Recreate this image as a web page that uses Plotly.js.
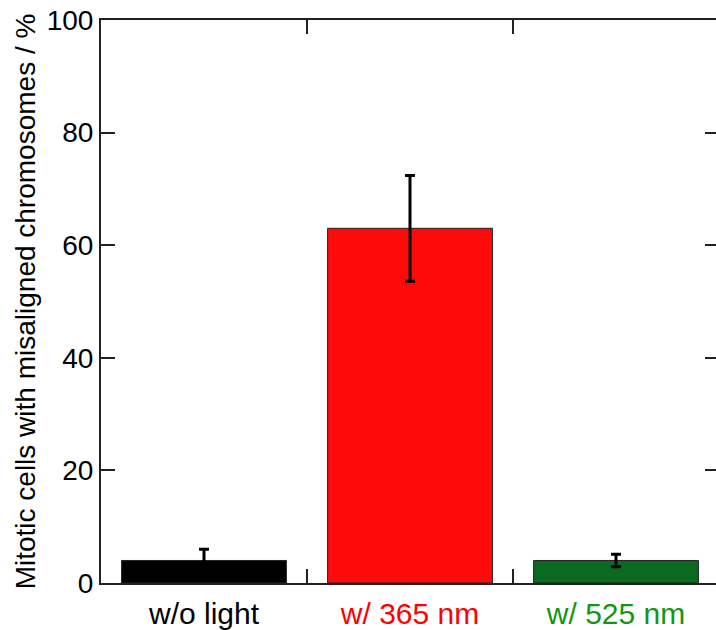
<!DOCTYPE html>
<html>
<head>
<meta charset="utf-8">
<script src="https://cdn.plot.ly/plotly-3.0.1.min.js"></script>
<style>
html,body{margin:0;padding:0;overflow:hidden;background:#fff;width:716px;height:630px;}
#chart{width:722px;height:630px;}
</style>
</head>
<body>
<div id="chart"></div>
<script>
const categories = ["w/o light", "w/ 365 nm", "w/ 525 nm"];
const values = [4.0, 63.0, 4.0];
const errors = [2.0, 9.4, 1.1];
const barColors = ["#000000", "#ff0a0a", "#0b6a1f"];
const labelColors = ["#000000", "#ff0000", "#139613"];
const yTicks = [0, 20, 40, 60, 80, 100];
const yTitle = "Mitotic cells with misaligned chromosomes / %";

const trace = {
  type: "bar",
  x: categories,
  y: values,
  width: 0.8,
  marker: {color: barColors, line: {color: "#222", width: 1}},
  error_y: {type: "data", array: errors, visible: true, color: "#000", thickness: 3, width: 5},
  hoverinfo: "none"
};

const layout = {
  width: 722, height: 630,
  margin: {l: 101, r: 3, t: 20, b: 47},
  paper_bgcolor: "#fff", plot_bgcolor: "#fff",
  font: {family: "Liberation Sans, Arial, sans-serif", color: "#000"},
  showlegend: false,
  bargap: 0.2,
  xaxis: {
    type: "category",
    range: [-0.5, 2.5],
    tickmode: "array",
    tickvals: categories,
    ticktext: categories.map((c, i) => '<span style="color:' + labelColors[i] + '">' + c + '</span>'),
    tickson: "boundaries",
    ticks: "inside", ticklen: 14, tickwidth: 2, tickcolor: "#222",
    showline: true, linecolor: "#222", linewidth: 2, mirror: "ticks",
    showgrid: false, zeroline: false,
    ticklabelstandoff: 3,
    tickfont: {size: 30}
  },
  yaxis: {
    range: [0, 100],
    tickmode: "array", tickvals: yTicks,
    ticks: "inside", ticklen: 14, tickwidth: 2, tickcolor: "#222",
    showline: true, linecolor: "#222", linewidth: 2, mirror: "ticks",
    showgrid: false, zeroline: false,
    tickfont: {size: 28},
    title: {text: yTitle, font: {size: 28}, standoff: 3}
  }
};

Plotly.newPlot("chart", [trace], layout, {displayModeBar: false, staticPlot: true});
</script>
</body>
</html>
